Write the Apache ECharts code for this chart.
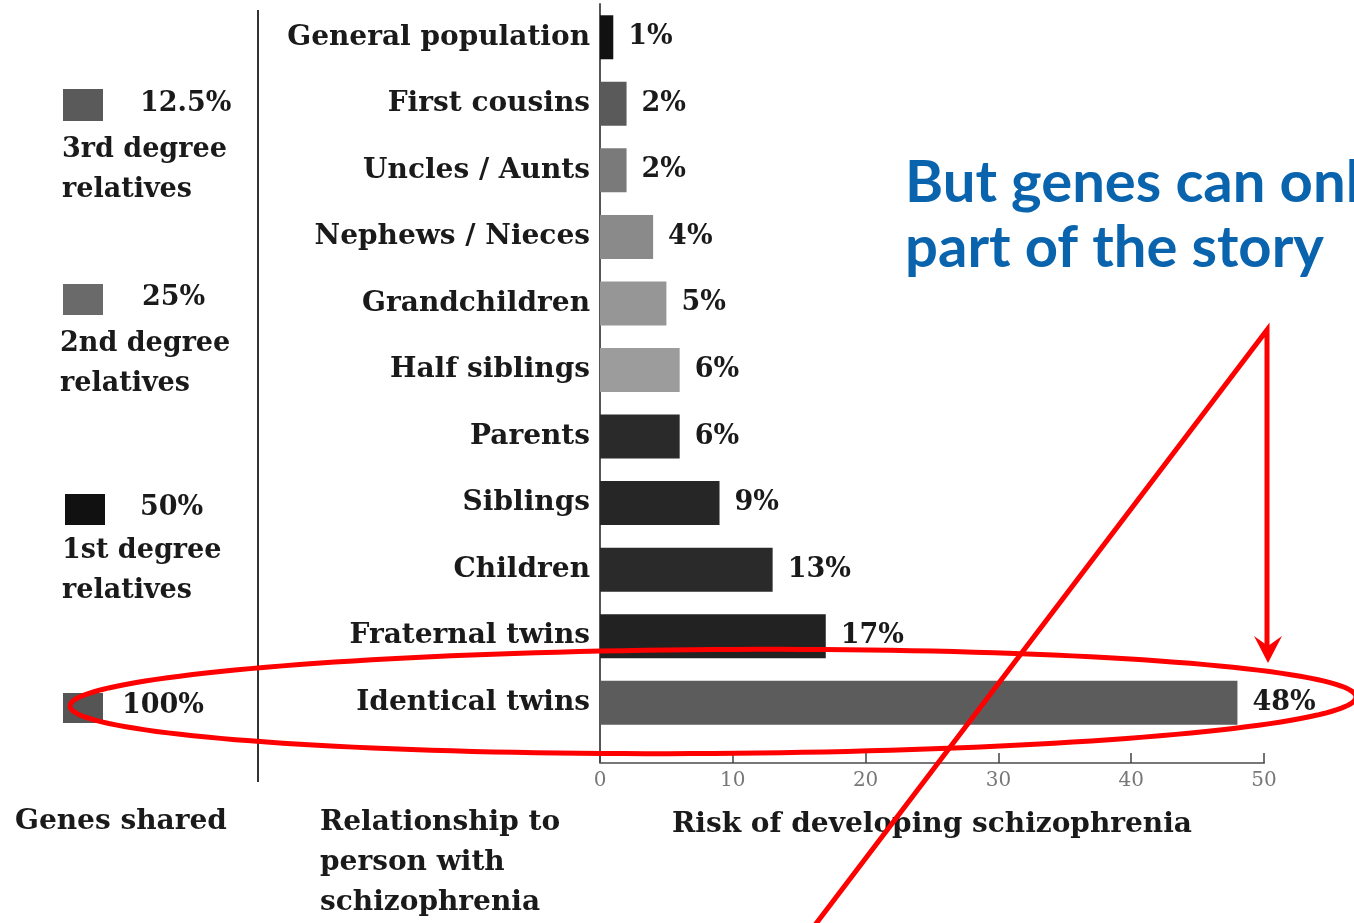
<!DOCTYPE html>
<html>
<head>
<meta charset="utf-8">
<script src="https://cdn.jsdelivr.net/npm/echarts@6/dist/echarts.min.js"></script>
<style>
  html, body { margin: 0; padding: 0; background: #fff; }
  #chart { width: 1354px; height: 923px; }
</style>
</head>
<body>
<div id="chart"></div>
<script>
var categories = [
  "General population", "First cousins", "Uncles / Aunts", "Nephews / Nieces",
  "Grandchildren", "Half siblings", "Parents", "Siblings", "Children",
  "Fraternal twins", "Identical twins"
];
var risk = [1, 2, 2, 4, 5, 6, 6, 9, 13, 17, 48];
var barColors = [
  "#111111", "#5a5a5a", "#7a7a7a", "#8a8a8a", "#969696", "#9c9c9c",
  "#2a2a2a", "#262626", "#2a2a2a", "#222222", "#5c5c5c"
];

// genes shared key on the left
var shareValues = ["12.5%", "25%", "50%", "100%"];
var shareGroups = ["3rd degree\nrelatives", "2nd degree\nrelatives", "1st degree\nrelatives", ""];
var shareColors = ["#5a5a5a", "#6a6a6a", "#111111", "#555555"];

var serif = "\"DejaVu Serif\", \"Liberation Serif\", serif";
var keyFont = "bold 27px " + serif;
var titleFont = "bold 28px " + serif;

var chart = echarts.init(document.getElementById("chart"));

var graphics = [];

// vertical separator and axis line extension
graphics.push({ type: "line", shape: { x1: 258, y1: 10, x2: 258, y2: 782 }, style: { stroke: "#333", lineWidth: 2 } });
graphics.push({ type: "line", shape: { x1: 600, y1: 736, x2: 600, y2: 763 }, style: { stroke: "#555", lineWidth: 2 } });

var keyBoxes = [[63, 89, 32], [63, 284, 31], [65, 494, 31], [63, 693, 30]];
var keyValueX = [140, 142, 140, 122];
var keyValueY = [104, 298, 508, 706];
var keyGroupX = [62, 60, 62, 0];
var keyGroupY = [170, 364, 571, 0];
shareValues.forEach(function (v, i) {
  graphics.push({
    type: "rect",
    shape: { x: keyBoxes[i][0], y: keyBoxes[i][1], width: 40, height: keyBoxes[i][2] },
    style: { fill: shareColors[i] }
  });
  graphics.push({
    type: "text",
    style: { text: v, x: keyValueX[i], y: keyValueY[i], font: keyFont, fill: "#1a1a1a", verticalAlign: "middle" }
  });
  if (shareGroups[i]) {
    graphics.push({
      type: "text",
      style: { text: shareGroups[i], x: keyGroupX[i], y: keyGroupY[i], font: keyFont, fill: "#1a1a1a", verticalAlign: "middle", lineHeight: 40 }
    });
  }
});

graphics.push({ type: "text", style: { text: "Genes shared", x: 15, y: 822, font: titleFont, fill: "#1a1a1a", verticalAlign: "middle" } });
graphics.push({ type: "text", style: { text: "Relationship to\nperson with\nschizophrenia", x: 320, y: 863, font: titleFont, fill: "#1a1a1a", verticalAlign: "middle", lineHeight: 40 } });

// red annotation: ellipse round the identical twins bar
var ell = [];
for (var k = 0; k < 180; k++) {
  var a = k / 180 * Math.PI * 2;
  var rot = -0.007;
  var ex = 643 * Math.cos(a), ey = 52 * Math.sin(a);
  ell.push([713 + ex * Math.cos(rot) - ey * Math.sin(rot), 701.5 + ex * Math.sin(rot) + ey * Math.cos(rot)]);
}
graphics.push({ type: "polygon", z: 100, shape: { points: ell }, style: { fill: null, stroke: "#ff0000", lineWidth: 5 } });
graphics.push({ type: "polyline", z: 100, shape: { points: [[815, 925], [1267, 330], [1267, 650]] }, style: { stroke: "#ff0000", lineWidth: 5, fill: null } });
graphics.push({ type: "polygon", z: 100, shape: { points: [[1254, 636], [1268, 663], [1282, 636], [1268, 646]] }, style: { fill: "#ff0000" } });

graphics.push({
  type: "text", z: 100,
  style: {
    text: "But genes can onl\npart of the story", x: 905, y: 216,
    font: "bold 58px \"Comic Sans MS\", Lato, sans-serif", fill: "#0a64ad",
    lineHeight: 65, verticalAlign: "middle"
  }
});

chart.setOption({
  animation: false,
  grid: { left: 600, right: 90, top: 4, bottom: 187 },
  xAxis: {
    type: "value", min: 0, max: 50, interval: 10, offset: 27,
    axisLine: { show: true, lineStyle: { color: "#777", width: 2 } },
    axisTick: { show: true, inside: true, length: 10, lineStyle: { color: "#444", width: 1.5 } },
    splitLine: { show: false },
    axisLabel: { color: "#777", fontFamily: serif, fontSize: 20, margin: 8 },
    name: "Risk of developing schizophrenia",
    nameLocation: "middle", nameGap: 48,
    nameTextStyle: { fontFamily: serif, fontWeight: "bold", fontSize: 28, color: "#1a1a1a" }
  },
  yAxis: {
    type: "category", inverse: true, data: categories,
    axisLine: { show: true, lineStyle: { color: "#555", width: 2 } },
    axisTick: { show: false },
    axisLabel: { fontFamily: serif, fontWeight: "bold", fontSize: 28, color: "#1a1a1a", margin: 10 }
  },
  series: [{
    type: "bar",
    barWidth: 44,
    data: risk.map(function (v, i) { return { value: v, itemStyle: { color: barColors[i] } }; }),
    label: {
      show: true, position: "right", distance: 15,
      formatter: "{c}%",
      fontFamily: serif, fontWeight: "bold", fontSize: 27, color: "#1a1a1a"
    }
  }],
  graphic: graphics
});
</script>
</body>
</html>
